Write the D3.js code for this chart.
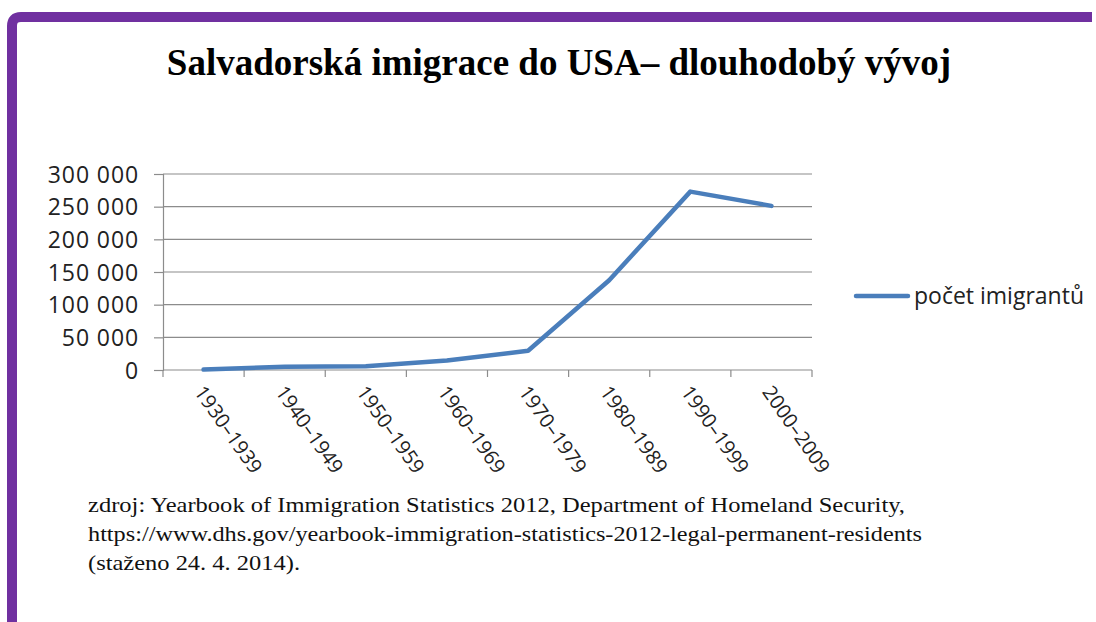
<!DOCTYPE html>
<html lang="cs">
<head>
<meta charset="UTF-8">
<title>Salvadorská imigrace do USA</title>
<script src="https://d3js.org/d3.v7.min.js"></script>
<style>
  body { margin: 0; background: #fff; }
  .tick text { font-family: "Open Sans", sans-serif; fill: #222; }
</style>
</head>
<body>
<div id="chart"></div>
<script>
// data
const periods = ["1930–1939", "1940–1949", "1950–1959", "1960–1969", "1970–1979", "1980–1989", "1990–1999", "2000–2009"];
const immigrants = [673, 5132, 5895, 14405, 29428, 137418, 273017, 251237];
const yTicks = [0, 50000, 100000, 150000, 200000, 250000, 300000];
const seriesName = "počet imigrantů";
const sourceLines = [
  "zdroj: Yearbook of Immigration Statistics 2012, Department of Homeland Security,",
  "https://www.dhs.gov/yearbook-immigration-statistics-2012-legal-permanent-residents",
  "(staženo 24. 4. 2014)."
];
const sourceWidths = [817, 834, 212];

const W = 1096, H = 622;
const plot = {left: 163, right: 812, top: 174, bottom: 370};
const purple = "#7030a0";
const blue = "#4a7ebb";

const svg = d3.select("#chart").append("svg")
  .attr("width", W).attr("height", H);

// slide frame (left + top bars)
svg.append("path")
  .attr("d", "M12,622 L12,26 Q12,17 21,17 L1092,17")
  .attr("fill", "none")
  .attr("stroke", purple)
  .attr("stroke-width", 10);

// title
svg.append("text")
  .attr("x", 559).attr("y", 75)
  .attr("text-anchor", "middle")
  .style("font-family", "'Liberation Serif', serif")
  .style("font-weight", "bold")
  .style("font-size", "37px")
  .text("Salvadorská imigrace do USA– dlouhodobý vývoj");

const x = d3.scaleBand().domain(periods).range([plot.left, plot.right]);
const y = d3.scaleLinear().domain([0, 300000]).range([plot.bottom, plot.top]);

const fmt = v => d3.format(",")(v).replace(/,/g, " ");

// gridlines
svg.append("g")
  .selectAll("line")
  .data(yTicks.filter(d => d > 0))
  .join("line")
  .attr("x1", plot.left).attr("x2", plot.right)
  .attr("y1", d => y(d)).attr("y2", d => y(d))
  .attr("stroke", "#8c8c8c").attr("stroke-width", 1.2);

// y axis
const yAxis = svg.append("g")
  .attr("transform", `translate(${plot.left},0)`)
  .call(d3.axisLeft(y).tickValues(yTicks).tickSize(9).tickPadding(15).tickFormat(fmt));
yAxis.selectAll("line, path").attr("stroke", "#8c8c8c").attr("stroke-width", 1.2);
yAxis.selectAll("text").style("font-size", "23px").style("letter-spacing", "0.9px").attr("dy", "0.36em");

// x axis with ticks at category boundaries
const xAxis = svg.append("g")
  .attr("transform", `translate(0,${plot.bottom})`);
xAxis.append("line")
  .attr("x1", plot.left).attr("x2", plot.right)
  .attr("stroke", "#8c8c8c").attr("stroke-width", 1.2);
const bounds = periods.map(p => x(p)).concat([plot.right]);
xAxis.selectAll(".xt")
  .data(bounds)
  .join("line")
  .attr("class", "xt")
  .attr("x1", d => d).attr("x2", d => d)
  .attr("y1", 0).attr("y2", 7)
  .attr("stroke", "#8c8c8c").attr("stroke-width", 1.2);
xAxis.selectAll(".xl")
  .data(periods)
  .join("text")
  .attr("class", "xl")
  .attr("transform", d => `translate(${x(d) + x.bandwidth() / 2 - 10},${22}) rotate(55)`)
  .style("font-family", "'Open Sans', sans-serif")
  .style("font-size", "20px")
  .attr("fill", "#222")
  .text(d => d);

// line
const line = d3.line()
  .x((d, i) => x(periods[i]) + x.bandwidth() / 2)
  .y(d => y(d));
svg.append("path")
  .datum(immigrants)
  .attr("d", line)
  .attr("fill", "none")
  .attr("stroke", blue)
  .attr("stroke-width", 4.5)
  .attr("stroke-linejoin", "round")
  .attr("stroke-linecap", "round");

// legend
const lg = svg.append("g").attr("transform", "translate(856,296)");
lg.append("line")
  .attr("x1", 0).attr("x2", 52)
  .attr("stroke", blue).attr("stroke-width", 4.5).attr("stroke-linecap", "round");
lg.append("text")
  .attr("x", 58).attr("y", 0).attr("dy", "0.35em")
  .style("font-family", "'Open Sans', sans-serif")
  .style("font-size", "23px")
  .attr("fill", "#222")
  .text(seriesName);

// source note
svg.append("g")
  .selectAll("text")
  .data(sourceLines)
  .join("text")
  .attr("x", 88)
  .attr("y", (d, i) => 512 + i * 29)
  .attr("textLength", (d, i) => sourceWidths[i])
  .attr("lengthAdjust", "spacingAndGlyphs")
  .style("font-family", "'Liberation Serif', serif")
  .style("font-size", "22px")
  .attr("fill", "#111")
  .text(d => d);
</script>
</body>
</html>
